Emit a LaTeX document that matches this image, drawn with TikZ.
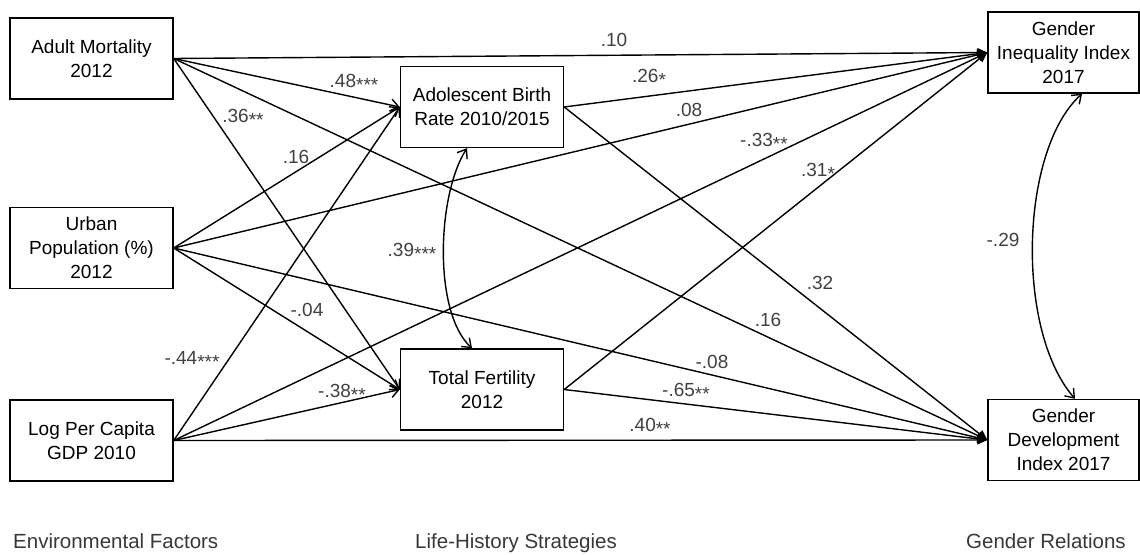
\documentclass[tikz,border=0pt]{standalone}
\usepackage{fontspec}
\setmainfont{Liberation Sans}
\usetikzlibrary{arrows.meta}
\newcommand{\stars}[1]{{\fontsize{19}{19}\selectfont\raisebox{-0.24em}{#1}}}
\begin{document}
\begin{tikzpicture}[x=1pt,y=-1pt,
  box/.style={draw=black, line width=1.4pt, minimum width=163pt, minimum height=81pt, align=center, inner sep=0pt, font=\fontsize{19}{24}\selectfont},
  rbox/.style={box, minimum width=151pt},
  conn/.style={line width=1.4pt},
  tomid/.style={conn, -{Straight Barb[length=8pt,width=12pt]}},
  toright/.style={conn, -{Triangle[length=10pt,width=9pt]}},
  corr/.style={conn, {Straight Barb[length=8pt,width=12pt]}-{Straight Barb[length=8pt,width=12pt]}},
  lbl/.style={inner sep=0pt, text=black!75, font=\fontsize{19}{19}\selectfont},
  grp/.style={anchor=base west, inner sep=0pt, text=black!78, font=\fontsize{20.5}{21}\selectfont}
]
\useasboundingbox (0,0) rectangle (1140,554);

% boxes
\node[box] (am) at (91.5,58.5) {Adult Mortality\\2012};
\node[box] (up) at (91.5,248) {Urban\\Population (\%)\\2012};
\node[box] (lg) at (91.5,440.5) {Log Per Capita\\GDP 2010};
\node[box] (abr) at (482,107) {Adolescent Birth\\Rate 2010/2015};
\node[box] (tf) at (482,389.5) {Total Fertility\\2012};
\node[rbox] (gii) at (1063.5,52.5) {Gender\\Inequality Index\\2017};
\node[rbox] (gdi) at (1063.5,440) {Gender\\Development\\Index 2017};

% paths from Adult Mortality
\draw[toright] (am.east) -- (gii.west);
\draw[tomid] (am.east) -- (abr.west);
\draw[tomid] (am.east) -- (tf.west);
\draw[toright] (am.east) -- (gdi.west);
% paths from Urban Population
\draw[tomid] (up.east) -- (abr.west);
\draw[toright] (up.east) -- (gii.west);
\draw[tomid] (up.east) -- (tf.west);
\draw[toright] (up.east) -- (gdi.west);
% paths from Log Per Capita GDP
\draw[tomid] (lg.east) -- (abr.west);
\draw[tomid] (lg.east) -- (tf.west);
\draw[toright] (lg.east) -- (gii.west);
\draw[toright] (lg.east) -- (gdi.west);
% paths from life-history strategies
\draw[toright] (abr.east) -- (gii.west);
\draw[toright] (abr.east) -- (gdi.west);
\draw[toright] (tf.east) -- (gii.west);
\draw[toright] (tf.east) -- (gdi.west);

% correlations
\draw[corr] ([xshift=-15pt]abr.south) .. controls (437,195) and (433,312) .. ([xshift=-10pt]tf.north);
\draw[corr] ([xshift=18.5pt]gii.south) .. controls (1020,150) and (1015,330) .. ([xshift=11.5pt]gdi.north);

% coefficient labels
\node[lbl] (c1) at (614,40) {.10};
\node[lbl] (c2) at (354,83) {.48\stars{***}};
\node[lbl] (c3) at (243,118) {.36\stars{**}};
\node[lbl] (c4) at (768,320) {.16};
\node[lbl] (c5) at (296,157) {.16};
\node[lbl] (c6) at (689,110) {.08};
\node[lbl] (c7) at (307,310) {-.04};
\node[lbl] (c8) at (712,362) {-.08};
\node[lbl] (c9) at (192,360) {-.44\stars{***}};
\node[lbl] (c10) at (342,393) {-.38\stars{**}};
\node[lbl] (c11) at (764,142) {-.33\stars{**}};
\node[lbl] (c12) at (650,427) {.40\stars{**}};
\node[lbl] (c13) at (649,78) {.26\stars{*}};
\node[lbl] (c14) at (820,283) {.32};
\node[lbl] (c15) at (818,172) {.31\stars{*}};
\node[lbl] (c16) at (686,392) {-.65\stars{**}};
\node[lbl] (c17) at (412,252) {.39\stars{***}};
\node[lbl] (c18) at (1003,240) {-.29};

% group captions
\node[grp] (g1) at (13,548) {Environmental Factors};
\node[grp] (g2) at (415,548) {Life-History Strategies};
\node[grp] (g3) at (966,548) {Gender Relations};
\end{tikzpicture}
\end{document}
